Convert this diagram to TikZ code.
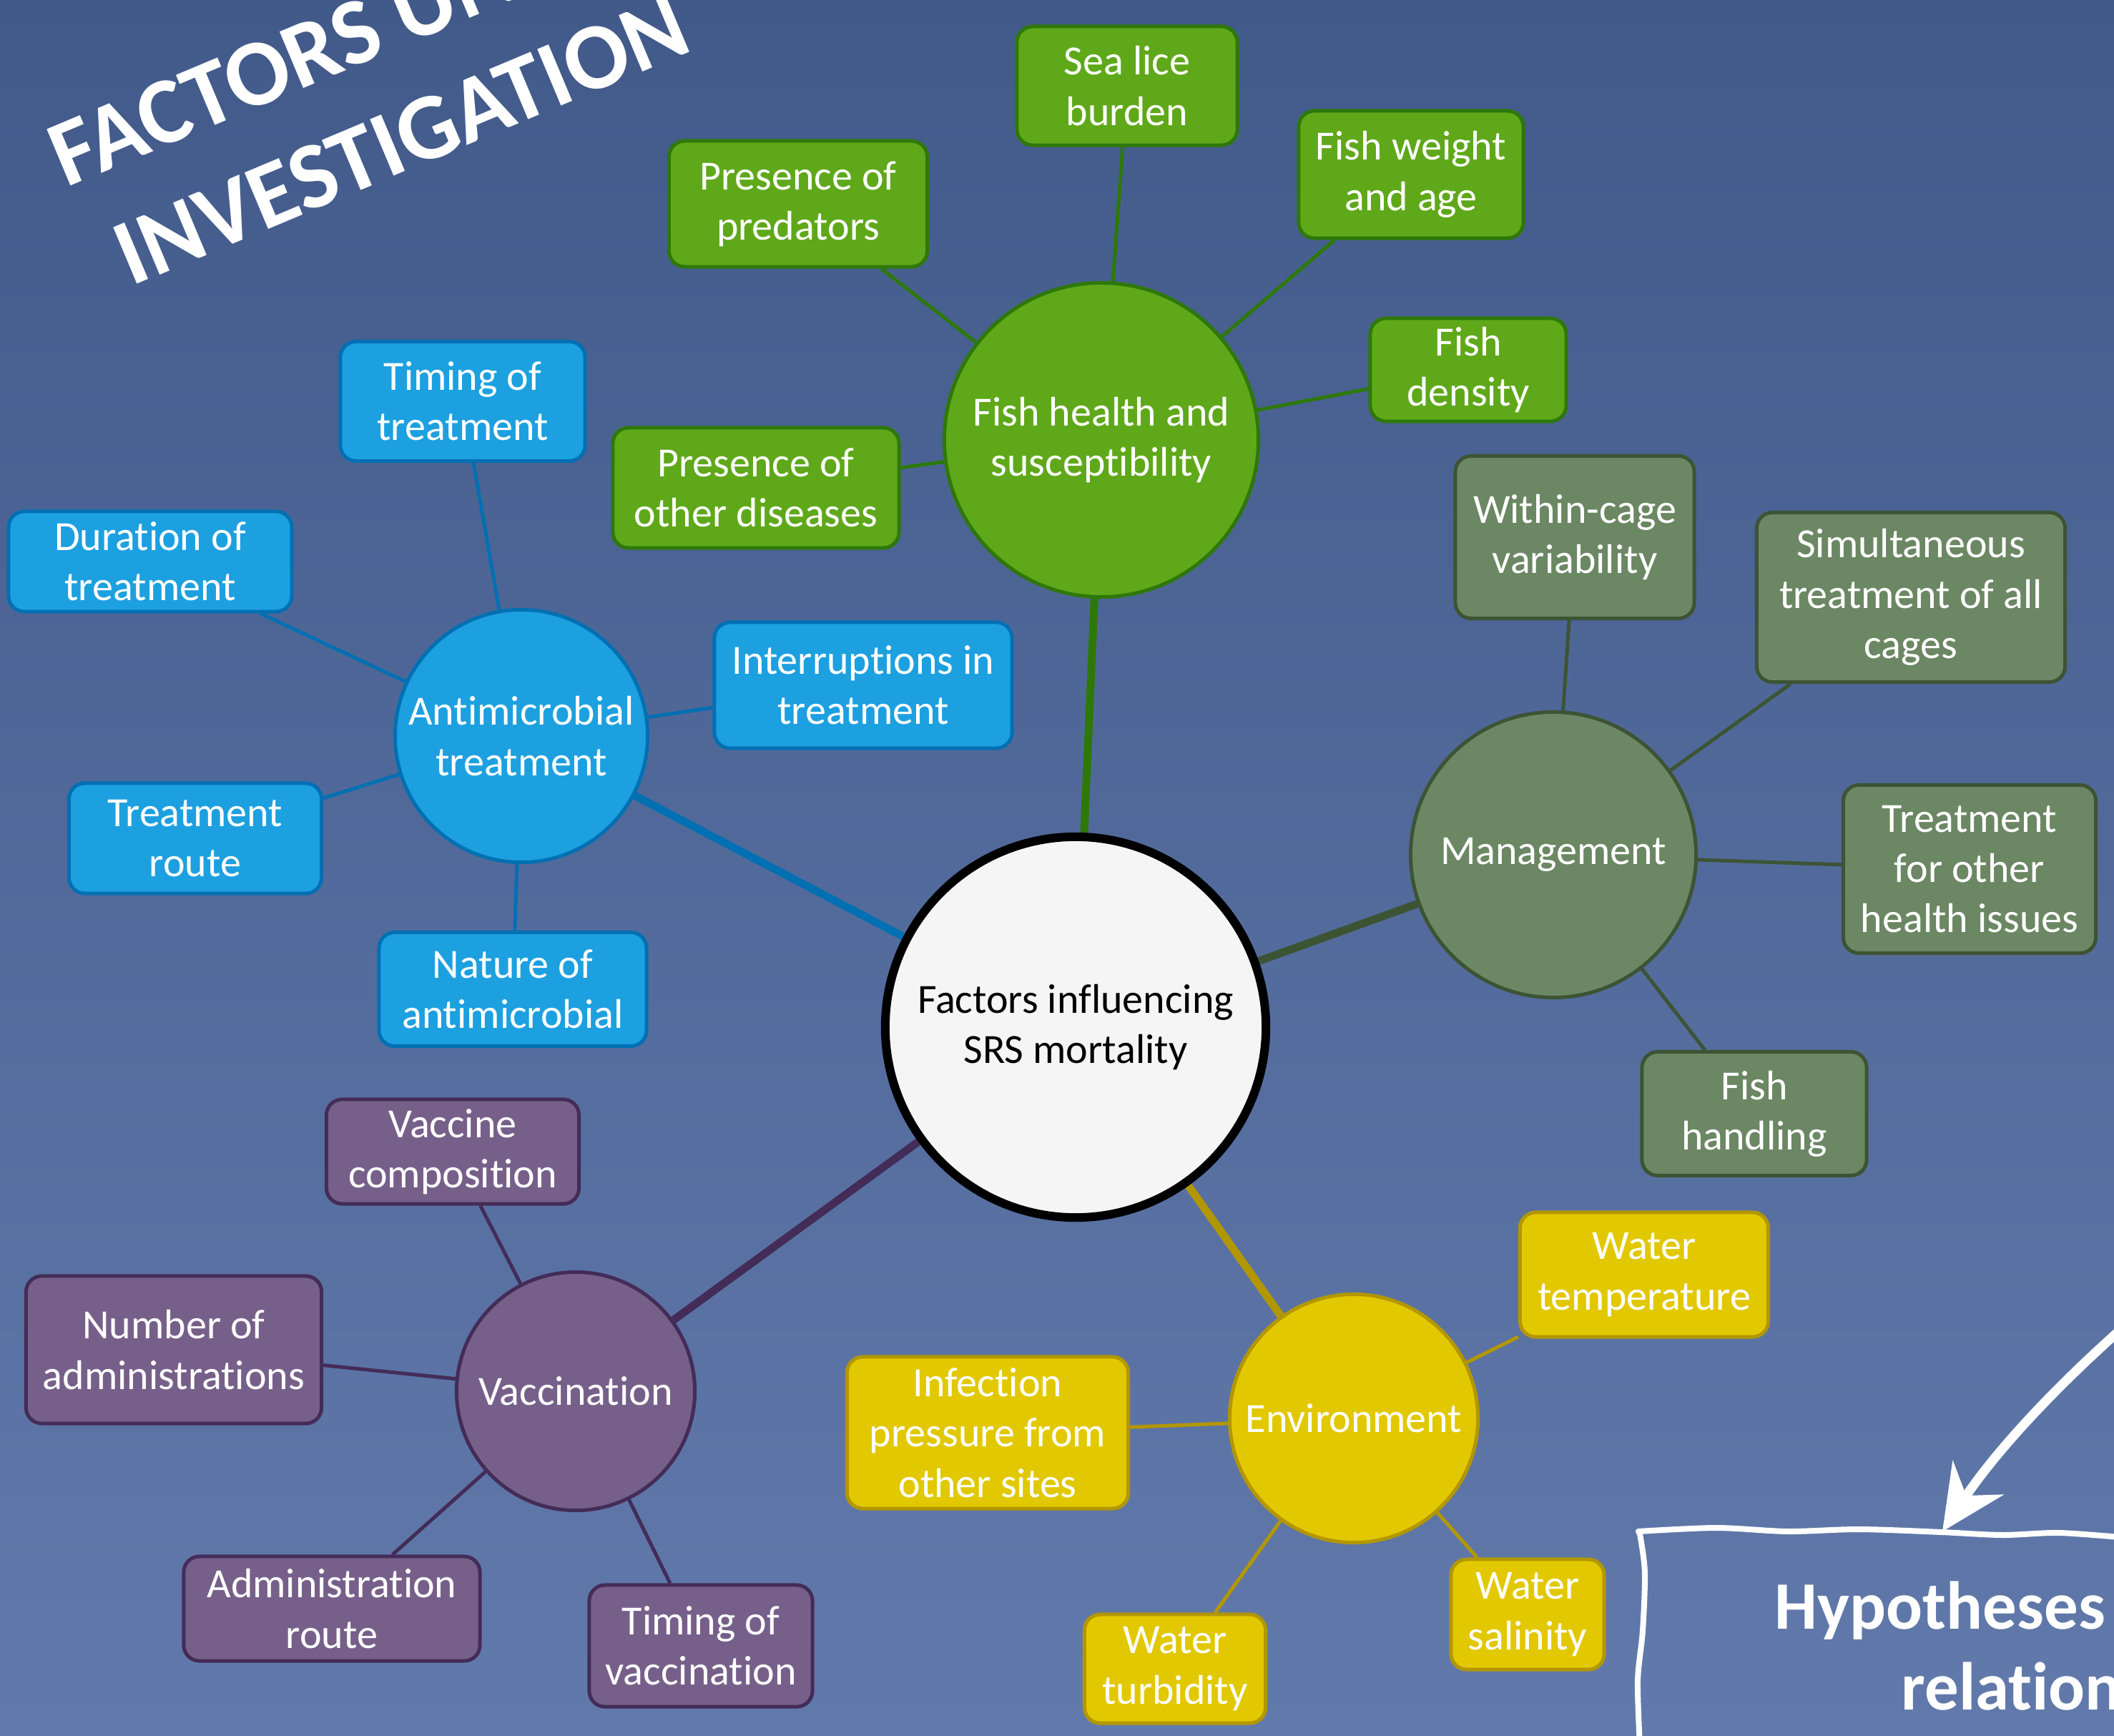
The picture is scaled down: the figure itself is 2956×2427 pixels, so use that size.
\documentclass[tikz,border=0pt]{standalone}
\usepackage{fontspec}
\setmainfont{Carlito}[Ligatures={NoCommon}]
\usetikzlibrary{arrows.meta,shapes.geometric}
\pgfdeclarelayer{bg}
\pgfdeclarelayer{edges}
\pgfsetlayers{bg,edges,main}
\definecolor{bgtop}{HTML}{425A8A}
\definecolor{bgbot}{HTML}{627AAB}
\definecolor{gfill}{HTML}{5FA81A}
\definecolor{gline}{HTML}{2E780A}
\definecolor{bfill}{HTML}{1DA0E0}
\definecolor{bline}{HTML}{0070B3}
\definecolor{mfill}{HTML}{6B8763}
\definecolor{mline}{HTML}{3C5434}
\definecolor{pfill}{HTML}{76608A}
\definecolor{pline}{HTML}{432C58}
\definecolor{yfill}{HTML}{E2C800}
\definecolor{yline}{HTML}{B39700}
\definecolor{cfill}{HTML}{F5F5F5}
\begin{document}
\begin{tikzpicture}[x=0.01cm, y=-0.01cm,
  every node/.style={font=\fontsize{16.5}{20}\selectfont, text=white, align=center, inner sep=0pt},
  box/.style={rectangle, rounded corners=0.22cm, line width=0.05cm},
  gbox/.style={box, fill=gfill, draw=gline},
  bbox/.style={box, fill=bfill, draw=bline},
  mbox/.style={box, fill=mfill, draw=mline},
  pbox/.style={box, fill=pfill, draw=pline},
  ybox/.style={box, fill=yfill, draw=yline},
  hub/.style={circle, line width=0.05cm},
  twig/.style={line width=0.05cm},
  branch/.style={line width=0.11cm},
  titletext/.style={font=\fontsize{37.5}{46}\selectfont\bfseries, rotate=22.8, anchor=base west},
  hyptext/.style={font=\fontsize{27}{32}\selectfont\bfseries, anchor=base west}
]
\begin{pgfonlayer}{bg}
\shade[top color=bgtop, bottom color=bgbot] (0,0) rectangle (2956,2427);
\end{pgfonlayer}
\clip (0,0) rectangle (2956,2427);

% title
\node[titletext] (title1) at (92,263) {FACTORS UNDER};
\node[titletext] (title2) at (183,401) {INVESTIGATION};

% centre
\node[circle, fill=cfill, draw=black, line width=0.12cm, minimum size=5.32cm, text=black] (center) at (1504,1436) {Factors influencing\\SRS mortality};

% hubs
\node[hub, fill=gfill, draw=gline, minimum size=4.39cm] (fish) at (1540,615) {Fish health and\\susceptibility};
\node[hub, fill=bfill, draw=bline, minimum size=3.53cm] (anti) at (729,1029) {Antimicrobial\\treatment};
\node[hub, fill=mfill, draw=mline, minimum size=3.99cm] (mgmt) at (2172,1195) {Management};
\node[hub, fill=pfill, draw=pline, minimum size=3.33cm] (vacc) at (805,1945) {Vaccination};
\node[hub, fill=yfill, draw=yline, minimum size=3.47cm] (env) at (1893,1983) {Environment};

% green
\node[gbox, minimum width=3.08cm, minimum height=1.66cm] (sealice) at (1576,120) {Sea lice\\burden};
\node[gbox, minimum width=3.61cm, minimum height=1.76cm] (predators) at (1116,285) {Presence of\\predators};
\node[gbox, minimum width=3.14cm, minimum height=1.78cm] (weight) at (1973,244) {Fish weight\\and age};
\node[gbox, minimum width=2.74cm, minimum height=1.44cm] (density) at (2053,517) {Fish\\density};
\node[gbox, minimum width=4.00cm, minimum height=1.68cm] (otherdis) at (1057,682) {Presence of\\other diseases};

% blue
\node[bbox, minimum width=3.42cm, minimum height=1.67cm] (timing) at (647,561) {Timing of\\treatment};
\node[bbox, minimum width=3.96cm, minimum height=1.40cm] (duration) at (210,785) {Duration of\\treatment};
\node[bbox, minimum width=4.16cm, minimum height=1.76cm] (interrupt) at (1207,958) {Interruptions in\\treatment};
\node[bbox, minimum width=3.53cm, minimum height=1.54cm] (troute) at (273,1172) {Treatment\\route};
\node[bbox, minimum width=3.74cm, minimum height=1.59cm] (nature) at (717,1383) {Nature of\\antimicrobial};

% management
\node[mbox, minimum width=3.34cm, minimum height=2.27cm] (within) at (2202,751) {Within-cage\\variability};
\node[mbox, minimum width=4.31cm, minimum height=2.37cm] (simult) at (2672,835) {Simultaneous\\treatment of all\\cages};
\node[mbox, minimum width=3.53cm, minimum height=2.35cm] (otherhealth) at (2754,1215) {Treatment\\for other\\health issues};
\node[mbox, minimum width=3.14cm, minimum height=1.73cm] (handling) at (2453,1557) {Fish\\handling};

% purple
\node[pbox, minimum width=3.53cm, minimum height=1.46cm] (vcomp) at (633,1610) {Vaccine\\composition};
\node[pbox, minimum width=4.13cm, minimum height=2.06cm] (numadmin) at (243,1887) {Number of\\administrations};
\node[pbox, minimum width=4.14cm, minimum height=1.46cm] (adminroute) at (464,2249) {Administration\\route};
\node[pbox, minimum width=3.12cm, minimum height=1.70cm] (timingvacc) at (980,2301) {Timing of\\vaccination};

% yellow
\node[ybox, minimum width=3.47cm, minimum height=1.74cm] (wtemp) at (2299,1782) {Water\\temperature};
\node[ybox, minimum width=3.93cm, minimum height=2.12cm] (infection) at (1381,2003) {Infection\\pressure from\\other sites};
\node[ybox, minimum width=2.53cm, minimum height=1.52cm] (turbidity) at (1643,2333) {Water\\turbidity};
\node[ybox, minimum width=2.14cm, minimum height=1.54cm] (salinity) at (2136,2257) {Water\\salinity};

% connectors
\begin{pgfonlayer}{edges}
\draw[branch, gline] (center) -- (fish);
\draw[branch, bline] (center) -- (anti);
\draw[branch, mline] (center) -- (mgmt);
\draw[branch, pline] (center) -- (vacc);
\draw[branch, yline] (center) -- (env);
\foreach \n in {sealice,predators,weight,density,otherdis} \draw[twig, gline] (fish) -- (\n);
\foreach \n in {timing,duration,interrupt,troute,nature} \draw[twig, bline] (anti) -- (\n);
\foreach \n in {within,simult,otherhealth,handling} \draw[twig, mline] (mgmt) -- (\n);
\foreach \n in {vcomp,numadmin,adminroute,timingvacc} \draw[twig, pline] (vacc) -- (\n);
\foreach \n in {wtemp,infection,turbidity,salinity} \draw[twig, yline] (env) -- (\n);
\end{pgfonlayer}

% hypotheses box (hand drawn)
\draw[white, line width=0.08cm, line join=round]
  plot[smooth] coordinates {(2293,2440) (2290,2350) (2297,2280) (2300,2200) (2294,2150) (2291,2141)}
  -- plot[smooth] coordinates {(2291,2141) (2400,2136) (2500,2141) (2600,2138) (2715,2142) (2800,2146) (2880,2143) (2975,2150)};
\coordinate (arrowstart) at (3010,1820);
\coordinate (arrowtip) at (2716,2141);
\draw[white, line width=0.13cm, -{Stealth[length=0.9cm, width=0.85cm, inset=0.3cm]}]
  (arrowstart) .. controls (2880,1930) and (2790,2030) .. (arrowtip);
\node[hyptext] (hyp1) at (2481,2277) {Hypotheses};
\node[hyptext] (hyp2) at (2658,2390) {relation};
\end{tikzpicture}
\end{document}
